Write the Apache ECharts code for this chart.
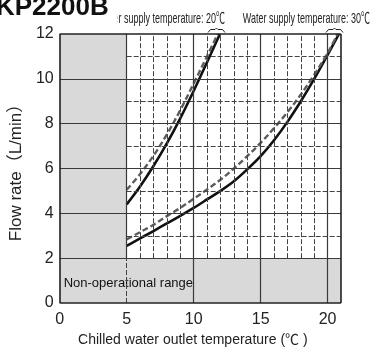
<!DOCTYPE html>
<html>
<head>
<meta charset="utf-8">
<script src="https://cdn.jsdelivr.net/npm/echarts@6/dist/echarts.min.js"></script>
<style>
  html, body { margin: 0; padding: 0; background: #fff; }
  #chart { width: 372px; height: 352px; }
</style>
</head>
<body>
<div id="chart"></div>
<script>
// Flow rate vs. chilled water outlet temperature, two water supply temperatures
const xTickLabels = [0, 5, 10, 15, 20];
const yTickLabels = [0, 2, 4, 6, 8, 10, 12];

// Water supply 20 °C
const supply20SolidX = [5, 6, 7, 8, 9, 10, 11, 11.96];
const supply20SolidY = [4.4, 5.2, 6.11, 7.12, 8.24, 9.46, 10.74, 12];
const supply20DashX  = [5, 6, 7, 8, 9, 10, 11, 11.8];
const supply20DashY  = [5.05, 5.75, 6.57, 7.52, 8.6, 9.79, 11.01, 12];

// Water supply 30 °C
const supply30SolidX = [5, 6, 7, 8, 9, 10, 11, 12, 13, 14, 15, 16, 17, 18, 19, 20, 20.85];
const supply30SolidY = [2.55, 2.88, 3.21, 3.55, 3.89, 4.245, 4.62, 5.0, 5.43, 5.96, 6.55, 7.26, 8.08, 9.0, 10.0, 11.07, 12];
const supply30DashX  = [5, 6, 7, 8, 9, 10, 11, 12, 13, 14, 15, 16, 17, 18, 19, 20, 20.75];
const supply30DashY  = [2.84, 3.16, 3.49, 3.875, 4.24, 4.65, 5.06, 5.5, 6.0, 6.55, 7.14, 7.8, 8.51, 9.3, 10.18, 11.15, 12];

// Axis extents and the operating limits
const X_MAX = 21;
const Y_MAX = 12;
const MIN_OUTLET_TEMP = 5;
const MIN_FLOW = 2;

const FONT = "'Liberation Sans', Arial, 'Noto Sans CJK JP', sans-serif";

function pairs(xs, ys) { return xs.map((x, i) => [x, ys[i]]); }

const solidGrid = { color: '#3a3a3a', width: 1.2, type: 'solid' };
const dashGrid  = { color: '#444', width: 1, type: [5, 2] };
const frameLine = { color: '#222', width: 1.6, type: 'solid' };

function seg(x1, y1, x2, y2, style) {
  return [{ coord: [x1, y1], lineStyle: style }, { coord: [x2, y2], lineStyle: style }];
}

const gridLines = [];
for (let y = MIN_FLOW; y < Y_MAX; y += 2) gridLines.push(seg(0, y, X_MAX, y, solidGrid));
for (let y = MIN_FLOW + 1; y < Y_MAX; y += 2) gridLines.push(seg(MIN_OUTLET_TEMP, y, X_MAX, y, dashGrid));
for (let x = MIN_OUTLET_TEMP + 1; x < X_MAX; x++) {
  if (x % 5 !== 0) gridLines.push(seg(x, MIN_FLOW, x, Y_MAX, dashGrid));
}
for (let x = 10; x < X_MAX; x += 5) gridLines.push(seg(x, 0, x, Y_MAX, solidGrid));
gridLines.push(seg(MIN_OUTLET_TEMP, MIN_FLOW, MIN_OUTLET_TEMP, Y_MAX, solidGrid));
gridLines.push(seg(MIN_OUTLET_TEMP, 0, MIN_OUTLET_TEMP, MIN_FLOW, dashGrid));

const frame = [
  seg(0, 0, X_MAX, 0, frameLine),
  seg(0, Y_MAX, X_MAX, Y_MAX, frameLine),
  seg(0, 0, 0, Y_MAX, frameLine),
  seg(X_MAX, 0, X_MAX, Y_MAX, frameLine)
];

const chart = echarts.init(document.getElementById('chart'));

function curve(xs, ys, dashed) {
  return {
    type: 'line',
    z: 3,
    data: pairs(xs, ys),
    smooth: 0.35,
    showSymbol: false,
    silent: true,
    lineStyle: dashed
      ? { color: '#5c5c5c', width: 2.4, type: [6, 3] }
      : { color: '#111', width: 2.6, type: 'solid' }
  };
}

function bracket(x1, x2, y) {
  const xc = (x1 + x2) / 2;
  return {
    type: 'polyline',
    z: 10,
    shape: { points: [[x1, y + 3], [x1 + 2.5, y], [xc - 1.5, y], [xc, y - 1.5], [xc + 1.5, y], [x2 - 2.5, y], [x2, y + 3]] },
    style: { stroke: '#222', lineWidth: 1, fill: null }
  };
}

function supplyLabel(text, right) {
  return {
    type: 'text', z: 5, x: right, y: 19, scaleX: 0.6,
    style: {
      text: text, x: 0, y: 0,
      align: 'right', verticalAlign: 'middle',
      font: '15px ' + FONT, fill: '#222'
    }
  };
}

chart.setOption({
  animation: false,
  grid: { left: 58, right: 31, top: 34, bottom: 46 },
  xAxis: {
    type: 'value',
    min: 0, max: X_MAX, interval: 5,
    name: 'Chilled water outlet temperature (℃ )',
    nameLocation: 'middle',
    nameGap: 30,
    nameTextStyle: { fontFamily: FONT, fontSize: 14, color: '#222', padding: [0, 15, 0, 0] },
    axisLine: { show: false },
    axisTick: { show: false },
    splitLine: { show: false },
    axisLabel: {
      margin: 9,
      fontFamily: FONT, fontSize: 16, color: '#222',
      formatter: v => (xTickLabels.includes(v) ? String(v) : '')
    }
  },
  yAxis: {
    type: 'value',
    min: 0, max: Y_MAX, interval: 2,
    name: 'Flow rate（L/min）',
    nameLocation: 'middle',
    nameGap: 31,
    nameTextStyle: { fontFamily: FONT, fontSize: 17, color: '#222' },
    axisLine: { show: false },
    axisTick: { show: false },
    splitLine: { show: false },
    axisLabel: {
      margin: 6,
      fontFamily: FONT, fontSize: 16, color: '#222',
      formatter: v => (yTickLabels.includes(v) ? String(v) : '')
    }
  },
  series: [
    {
      type: 'line', data: [], z: 1, silent: true,
      markArea: {
        silent: true,
        itemStyle: { color: '#d9d9d9' },
        data: [
          [{ coord: [0, 0] }, { coord: [X_MAX, MIN_FLOW] }],
          [{ coord: [0, MIN_FLOW] }, { coord: [MIN_OUTLET_TEMP, Y_MAX] }]
        ]
      }
    },
    {
      type: 'line', data: [], z: 2, silent: true,
      markLine: { silent: true, symbol: ['none', 'none'], label: { show: false }, data: gridLines }
    },
    curve(supply20SolidX, supply20SolidY, false),
    curve(supply20DashX, supply20DashY, true),
    curve(supply30SolidX, supply30SolidY, false),
    curve(supply30DashX, supply30DashY, true),
    {
      type: 'line', data: [], z: 4, silent: true,
      markArea: {
        silent: true,
        itemStyle: { color: 'rgba(0,0,0,0)' },
        label: {
          show: true, position: 'insideLeft', distance: 3, offset: [0, 3],
          formatter: 'Non-operational range',
          fontFamily: FONT, fontSize: 13, color: '#111',
          backgroundColor: '#d9d9d9', padding: [3, 1, 3, 1]
        },
        data: [[{ coord: [0, 0] }, { coord: [X_MAX, MIN_FLOW] }]]
      }
    },
    {
      type: 'line', data: [], z: 5, silent: true,
      markLine: { silent: true, symbol: ['none', 'none'], label: { show: false }, data: frame }
    }
  ],
  graphic: [
    supplyLabel('Water supply temperature: 20℃', 225),
    supplyLabel('Water supply temperature: 30℃', 370),
    {
      type: 'text', z: 8, x: -4, y: 8,
      style: {
        text: 'KP2200B', x: 0, y: 0,
        align: 'left', verticalAlign: 'middle',
        font: 'bold 26px ' + FONT, fill: '#111',
        backgroundColor: '#fff', padding: [2, 9, 8, 0]
      }
    },
    bracket(208, 225, 29.5),
    bracket(326, 343, 29.5)
  ]
});
</script>
</body>
</html>
